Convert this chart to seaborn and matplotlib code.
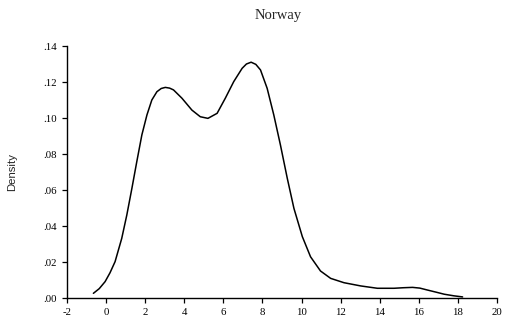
import matplotlib
matplotlib.use("Agg")
import matplotlib.pyplot as plt
import seaborn as sns
import pandas as pd

# Kernel density estimate for Norway, sampled along the x axis
x_vals = [-0.65, -0.35, -0.05, 0.2, 0.46, 0.80, 1.06, 1.32, 1.57, 1.83, 2.09,
          2.34, 2.60, 2.82, 3.03, 3.25, 3.45, 3.88, 4.39, 4.82, 5.21, 5.68,
          6.10, 6.53, 6.96, 7.18, 7.42, 7.66, 7.90, 8.24, 8.58, 8.92, 9.27,
          9.61, 10.04, 10.46, 10.97, 11.49, 12.17, 13.03, 13.88, 14.73, 15.2,
          15.68, 16.05, 16.45, 16.9, 17.30, 17.8, 18.24]
density = [0.0026, 0.0052, 0.0091, 0.0140, 0.0202, 0.0331, 0.0461, 0.0609,
           0.0757, 0.0906, 0.1017, 0.1100, 0.1146, 0.1164, 0.1170, 0.1166,
           0.1156, 0.1110, 0.1044, 0.1007, 0.0998, 0.1026, 0.1110, 0.1202,
           0.1276, 0.1300, 0.1310, 0.1298, 0.1267, 0.1165, 0.1017, 0.0850,
           0.0665, 0.0498, 0.0341, 0.0229, 0.0150, 0.0109, 0.0085, 0.0067,
           0.0054, 0.0054, 0.0057, 0.0059, 0.0055, 0.0044, 0.0032, 0.0021,
           0.0012, 0.0006]

x_ticks = [-2, 0, 2, 4, 6, 8, 10, 12, 14, 16, 18, 20]
y_ticks = [0.00, 0.02, 0.04, 0.06, 0.08, 0.10, 0.12, 0.14]
y_tick_labels = [".00", ".02", ".04", ".06", ".08", ".10", ".12", ".14"]
title = "Norway"
y_label = "Density"

df = pd.DataFrame({"x": x_vals, "density": density})

sns.set_style("ticks")
plt.rcParams["font.family"] = ["Liberation Serif", "DejaVu Serif"]

fig = plt.figure(figsize=(5.08, 3.29), dpi=100)
ax = fig.add_axes([67 / 508, 1 - 298 / 329, 430 / 508, 252 / 329])

sns.lineplot(data=df, x="x", y="density", ax=ax, color="black",
             linewidth=1.1, sort=False)

ax.set_xlim(-2, 20)
ax.set_ylim(0, 0.14)
ax.set_xticks(x_ticks)
ax.set_xticklabels([str(t) for t in x_ticks])
ax.set_yticks(y_ticks)
ax.set_yticklabels(y_tick_labels)

ax.tick_params(axis="both", direction="out", length=3.5, width=0.9,
               labelsize=7.8, colors="black", pad=4)
for s in ("left", "bottom"):
    ax.spines[s].set_linewidth(1.0)
    ax.spines[s].set_color("black")
sns.despine(ax=ax)

ax.set_xlabel("")
ax.set_ylabel(y_label, family=["Liberation Sans", "DejaVu Sans"], fontsize=8.2)
ax.yaxis.set_label_coords(-50 / 430, 0.5)

fig.text(278 / 508, 1 - 15 / 329, title, ha="center", va="center",
         fontsize=10.5, family=["Liberation Serif", "DejaVu Serif"])

fig.savefig("out.png", dpi=100)
